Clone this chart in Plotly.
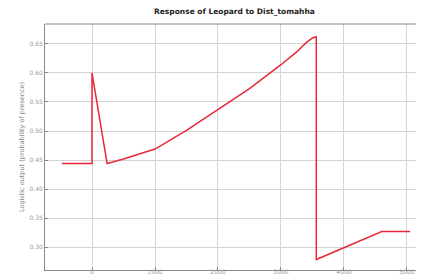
import plotly.graph_objects as go

dist = [-480, 0, 0, 240, 500, 750, 1000, 1500, 2000, 2500, 3000, 3250, 3400, 3500, 3560, 3560, 4600, 5050]
resp = [0.444, 0.444, 0.600, 0.444, 0.452, 0.460, 0.469, 0.501, 0.537, 0.573, 0.614, 0.636, 0.652, 0.660, 0.662, 0.279, 0.327, 0.327]
xticks = [0, 1000, 2000, 3000, 4000, 5000]
yticks = [0.30, 0.35, 0.40, 0.45, 0.50, 0.55, 0.60, 0.65]

fig = go.Figure()
fig.add_trace(go.Scatter(x=dist, y=resp, mode="lines",
                         line=dict(color="#e8283a", width=1.5), showlegend=False))

fig.update_layout(
    width=416, height=269,
    margin=dict(l=37, r=0, t=16, b=7),
    paper_bgcolor="white", plot_bgcolor="white",
    font=dict(family="DejaVu Sans", size=6, color="#888"),
    xaxis=dict(range=[-746, 5270], tickvals=xticks, ticktext=[str(v) for v in xticks],
               showgrid=True, gridcolor="#d4d4d4", gridwidth=1, zeroline=False, automargin=False,
               showline=True, linecolor="#888", linewidth=1, ticklabelstandoff=-4,
               ticks="inside", ticklen=3, tickcolor="#888", tickfont=dict(size=6, color="#999")),
    yaxis=dict(range=[0.261, 0.684], tickvals=yticks, ticktext=[f"{v:.2f}" for v in yticks],
               showgrid=True, gridcolor="#d4d4d4", gridwidth=1, zeroline=False, automargin=False,
               showline=True, linecolor="#888", linewidth=1,
               ticks="inside", ticklen=3, tickcolor="#888", tickfont=dict(size=6, color="#999"),
               title=dict(text="Logistic output (probability of presence)", standoff=4,
                          font=dict(size=6.5, color="#888"))),
    annotations=[dict(text="<b>Response of Leopard to Dist_tomahha</b>", xref="paper", yref="paper",
                      x=0.5, y=1, yshift=6, xanchor="center", yanchor="bottom", showarrow=False,
                      font=dict(size=7.5, color="#222"))],
)
fig.add_shape(type="line", xref="paper", yref="paper", x0=0, x1=1, y0=1, y1=1,
              line=dict(color="#888", width=1))
fig.write_html("out.html")
